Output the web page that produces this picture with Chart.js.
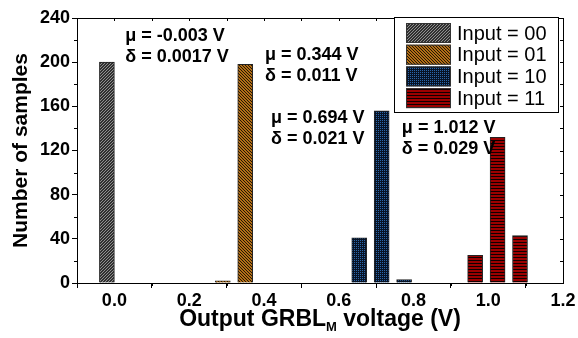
<!doctype html>
<html lang="en">
<head>
    <meta charset="utf-8">
    <title>Output GRBL voltage histogram</title>
    <style>
        * {
            margin: 0;
            padding: 0;
        }

        body {
            background: #fff;
        }
    </style>
</head>
<body>
<canvas id="myChart" width="578" height="338"></canvas>
<script src="https://cdn.jsdelivr.net/npm/chart.js"></script>
<script>
    // data
    const seriesLabels = ['Input = 00', 'Input = 01', 'Input = 10', 'Input = 11'];
    const bins00 = [-0.02];
    const counts00 = [200];
    const bins01 = [0.29, 0.35];
    const counts01 = [2, 198];
    const bins10 = [0.655, 0.715, 0.775];
    const counts10 = [41, 156, 3];
    const bins11 = [0.965, 1.025, 1.085];
    const counts11 = [25, 132, 43];

    const xTicks = [0, 0.2, 0.4, 0.6, 0.8, 1.0, 1.2];
    const yTicks = [0, 40, 80, 120, 160, 200, 240];

    // mean / deviation notes, anchored in data units (x, y of first line)
    const muText = ['\u03bc = -0.003 V', '\u03bc = 0.344 V', '\u03bc = 0.694 V', '\u03bc = 1.012 V'];
    const sigmaText = ['\u03b4 = 0.0017 V', '\u03b4 = 0.011 V', '\u03b4 = 0.021 V', '\u03b4 = 0.029 V'];
    const noteX = [0.029, 0.403, 0.419, 0.769];
    const noteY = [219.5, 202, 145, 136];

    const FONT = "'Liberation Sans', Arial, sans-serif";

    // fill patterns
    function makePattern(bg, fg, kind) {
        const c = document.createElement('canvas');
        const n = kind === 'dots' ? 2 : 3;
        c.width = n;
        c.height = n;
        const g = c.getContext('2d');
        g.fillStyle = bg;
        g.fillRect(0, 0, n, n);
        g.fillStyle = fg;
        for (let i = 0; i < n; i++) {
            if (kind === 'up') g.fillRect(i, n - 1 - i, 1, 1);
            if (kind === 'down') g.fillRect(i, i, 1, 1);
        }
        if (kind === 'dots') g.fillRect(0, 0, 1, 1);
        if (kind === 'lines') g.fillRect(0, 2, n, 1);
        return g.createPattern(c, 'repeat');
    }

    const fills = [
        makePattern('#303030', '#909090', 'up'),
        makePattern('#b26e16', '#241604', 'down'),
        makePattern('#071326', '#2a66aa', 'dots'),
        makePattern('#9c0000', '#100000', 'lines')
    ];

    const toPoints = (xs, ys) => xs.map((x, i) => ({x: x, y: ys[i]}));
    const seriesData = [
        toPoints(bins00, counts00),
        toPoints(bins01, counts01),
        toPoints(bins10, counts10),
        toPoints(bins11, counts11)
    ];

    // frame, minor ticks, legend, notes and x title
    const extras = {
        id: 'extras',
        afterDraw(chart) {
            const {ctx, chartArea: {top, bottom, left, right}, scales: {x, y}} = chart;
            ctx.save();
            ctx.strokeStyle = '#000';
            ctx.lineWidth = 1;
            ctx.beginPath();
            ctx.moveTo(left, top + 0.5);
            ctx.lineTo(right + 0.5, top + 0.5);
            ctx.lineTo(right + 0.5, bottom);
            // minor / inner ticks
            for (let v = -0.1; v <= 1.2001; v += 0.1) {
                const px = Math.round(x.getPixelForValue(v)) + 0.5;
                ctx.moveTo(px, top);
                ctx.lineTo(px, top + 3);
                if (Math.round(v * 10) % 2 !== 0 && v > -0.05) {
                    ctx.moveTo(px, bottom);
                    ctx.lineTo(px, bottom + 3);
                }
            }
            for (let v = 0; v <= 240; v += 20) {
                const py = Math.round(y.getPixelForValue(v)) + 0.5;
                ctx.moveTo(right, py);
                ctx.lineTo(right - 3, py);
                if (v % 40 !== 0) {
                    ctx.moveTo(left, py);
                    ctx.lineTo(left - 3, py);
                }
            }
            ctx.stroke();

            // legend
            const lx = 394.5, ly = 17.5, lw = 164, lh = 95;
            ctx.fillStyle = '#fff';
            ctx.fillRect(lx, ly, lw, lh);
            ctx.strokeRect(lx, ly, lw, lh);
            ctx.font = '20px ' + FONT;
            ctx.textBaseline = 'middle';
            ctx.textAlign = 'left';
            chart.data.datasets.forEach((ds, i) => {
                const ry = 23 + i * 21.7;
                ctx.fillStyle = ds.backgroundColor;
                ctx.fillRect(406, ry, 45, 20);
                ctx.strokeStyle = '#333';
                ctx.strokeRect(406.5, ry + 0.5, 44, 19);
                ctx.fillStyle = '#000';
                ctx.fillText(ds.label, 457, ry + 11);
            });

            // notes
            ctx.font = 'bold 18px ' + FONT;
            ctx.textBaseline = 'alphabetic';
            muText.forEach((t, i) => {
                const px = x.getPixelForValue(noteX[i]);
                const py = y.getPixelForValue(noteY[i]);
                ctx.fillText(t, px, py);
                ctx.fillText(sigmaText[i], px, py + 21.5);
            });

            // x title with subscript
            const partA = 'Output GRBL', sub = 'M', partB = ' voltage (V)';
            const big = 'bold 23px ' + FONT, small = 'bold 13px ' + FONT;
            ctx.font = big;
            const wA = ctx.measureText(partA).width, wB = ctx.measureText(partB).width;
            ctx.font = small;
            const wS = ctx.measureText(sub).width;
            let tx = (left + right) / 2 - (wA + wS + wB) / 2;
            const ty = 326;
            ctx.font = big;
            ctx.fillText(partA, tx, ty);
            tx += wA;
            ctx.font = small;
            ctx.fillText(sub, tx, ty + 5);
            tx += wS;
            ctx.font = big;
            ctx.fillText(partB, tx, ty);
            ctx.restore();
        }
    };

    const tickFont = {family: FONT, size: 18, weight: 'bold'};

    const config = {
        type: 'bar',
        data: {
            datasets: seriesLabels.map((label, i) => ({
                label: label,
                data: seriesData[i],
                backgroundColor: fills[i],
                borderColor: '#222',
                borderWidth: 1,
                barThickness: 15,
                grouped: false
            }))
        },
        options: {
            responsive: false,
            animation: false,
            layout: {padding: {top: 18, right: 15}},
            plugins: {
                legend: {display: false},
                tooltip: {enabled: false}
            },
            scales: {
                x: {
                    type: 'linear',
                    min: -0.1,
                    max: 1.2,
                    offset: false,
                    afterBuildTicks: s => { s.ticks = xTicks.map(v => ({value: v})); },
                    afterFit: s => { s.height = 55; },
                    ticks: {
                        font: tickFont,
                        color: '#000',
                        padding: 2,
                        maxRotation: 0,
                        autoSkip: false,
                        callback: v => v.toFixed(1)
                    },
                    grid: {drawOnChartArea: false, tickLength: 5, color: '#000'},
                    border: {color: '#000'}
                },
                y: {
                    min: 0,
                    max: 240,
                    afterBuildTicks: s => { s.ticks = yTicks.map(v => ({value: v})); },
                    afterFit: s => { s.width = 77; },
                    ticks: {font: tickFont, color: '#000', padding: 2},
                    grid: {drawOnChartArea: false, tickLength: 5, color: '#000'},
                    border: {color: '#000'},
                    title: {
                        display: true,
                        text: 'Number of samples',
                        color: '#000',
                        font: {family: FONT, size: 21, weight: 'bold'},
                        padding: {top: 9, bottom: 0}
                    }
                }
            }
        },
        plugins: [extras]
    };

    const myChart = new Chart(document.getElementById('myChart'), config);
</script>
</body>
</html>
